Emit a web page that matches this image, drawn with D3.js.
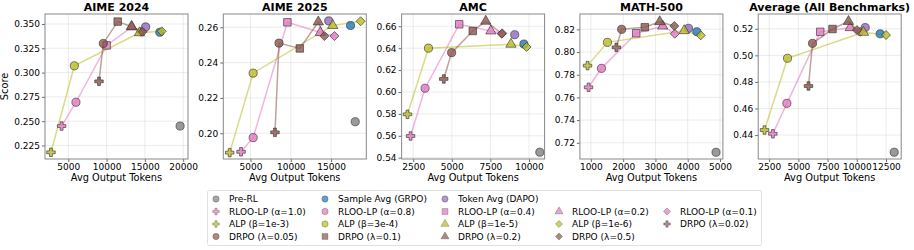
<!DOCTYPE html>
<html>
<head>
<meta charset="utf-8">
<script src="https://cdn.jsdelivr.net/npm/d3@7/dist/d3.min.js"></script>
<style>
  body { margin: 0; background: #fff; }
  svg { font-family: "DejaVu Sans", sans-serif; }
</style>
</head>
<body>
<svg id="chart" width="914" height="250"></svg>
<script>
// panels, in order: AIME 2024, AIME 2025, AMC, MATH-500, Average
var panelTitles = ["AIME 2024", "AIME 2025", "AMC", "MATH-500", "Average (All Benchmarks)"];
var xDomains = [[1960, 20630], [1625, 19375], [1750, 11010], [660, 5090], [1560, 13800]];
var yDomains = [[0.2111, 0.3603], [0.1854, 0.2675], [0.5388, 0.6712], [0.7057, 0.8335], [0.422, 0.5311]];
var xTicks = [
  [5000, 10000, 15000, 20000],
  [5000, 10000, 15000],
  [2500, 5000, 7500, 10000],
  [1000, 2000, 3000, 4000, 5000],
  [2500, 5000, 7500, 10000, 12500]
];
var yTicks = [
  [0.225, 0.25, 0.275, 0.3, 0.325, 0.35],
  [0.20, 0.22, 0.24, 0.26],
  [0.54, 0.56, 0.58, 0.60, 0.62, 0.64, 0.66],
  [0.72, 0.74, 0.76, 0.78, 0.80, 0.82],
  [0.44, 0.46, 0.48, 0.50, 0.52]
];
var yFormats = [".3f", ".2f", ".2f", ".2f", ".2f"];

// [avg output tokens, score] per panel
var preRL   = [[19600, 0.245], [18000, 0.2065], [10700, 0.545], [4877, 0.7116], [13200, 0.4271]];
var grpo    = [[16950, 0.3415], [17420, 0.261], [9670, 0.6438], [4283, 0.8179], [12000, 0.5162]];
var dapo    = [[15100, 0.347], [14710, 0.2636], [9075, 0.6523], [4025, 0.8209], [10720, 0.5209]];
var rloo10  = [[4130, 0.245], [3830, 0.1895], [2330, 0.5598], [928, 0.7689], [2815, 0.441]];
var rloo08  = [[6000, 0.2695], [5330, 0.1975], [3270, 0.6034], [1328, 0.7856], [4015, 0.4639]];
var rloo04  = [[10010, 0.328], [9580, 0.2628], [5480, 0.6618], [2405, 0.8165], [6870, 0.5177]];
var rloo02  = [[13300, 0.347], [13670, 0.257], [7530, 0.6557], [3225, 0.8229], [9430, 0.5208]];
var rloo01  = [[14500, 0.342], [15420, 0.255], [8270, 0.6535], [3600, 0.8161], [10290, 0.5177]];
var alp1e3  = [[2740, 0.218], [2420, 0.189], [2130, 0.5796], [897, 0.788], [2100, 0.4438]];
var alp3e4  = [[5790, 0.307], [5330, 0.234], [3490, 0.640], [1513, 0.8085], [4070, 0.4978]];
var alp1e5  = [[14300, 0.341], [15210, 0.261], [8830, 0.6436], [3892, 0.8188], [10570, 0.5173]];
var alp1e6  = [[17200, 0.3425], [18670, 0.2634], [9840, 0.6411], [4405, 0.8147], [12500, 0.5153]];
var drpo002 = [[9010, 0.291], [8040, 0.2005], [4480, 0.6119], [1790, 0.8041], [5865, 0.4769]];
var drpo005 = [[9570, 0.330], [8540, 0.251], [4990, 0.6359], [1954, 0.820], [6210, 0.509]];
var drpo01  = [[11450, 0.3525], [11120, 0.248], [6360, 0.6557], [2671, 0.8218], [7920, 0.5198]];
var drpo02  = [[13250, 0.3475], [13420, 0.263], [7200, 0.6646], [3133, 0.8267], [9290, 0.5255]];
var drpo05  = [[14700, 0.342], [14170, 0.255], [8230, 0.6532], [3585, 0.8229], [10010, 0.519]];

var colors = {
  gray: "#7f7f7f", blue: "#1f77b4", purple: "#9467bd",
  pink: "#e377c2", olive: "#bcbd22", brown: "#8c564b"
};

var series = [
  {label: "Pre-RL", data: preRL, color: "gray", shape: "circle"},
  {label: "Sample Avg (GRPO)", data: grpo, color: "blue", shape: "circle"},
  {label: "Token Avg (DAPO)", data: dapo, color: "purple", shape: "circle"},
  {label: "RLOO-LP (α=1.0)", data: rloo10, color: "pink", shape: "plus"},
  {label: "RLOO-LP (α=0.8)", data: rloo08, color: "pink", shape: "circle"},
  {label: "RLOO-LP (α=0.4)", data: rloo04, color: "pink", shape: "square"},
  {label: "RLOO-LP (α=0.2)", data: rloo02, color: "pink", shape: "triangle"},
  {label: "RLOO-LP (α=0.1)", data: rloo01, color: "pink", shape: "diamond"},
  {label: "ALP (β=1e-3)", data: alp1e3, color: "olive", shape: "plus"},
  {label: "ALP (β=3e-4)", data: alp3e4, color: "olive", shape: "circle"},
  {label: "ALP (β=1e-5)", data: alp1e5, color: "olive", shape: "triangle"},
  {label: "ALP (β=1e-6)", data: alp1e6, color: "olive", shape: "diamond"},
  {label: "DRPO (λ=0.02)", data: drpo002, color: "brown", shape: "plus"},
  {label: "DRPO (λ=0.05)", data: drpo005, color: "brown", shape: "circle"},
  {label: "DRPO (λ=0.1)", data: drpo01, color: "brown", shape: "square"},
  {label: "DRPO (λ=0.2)", data: drpo02, color: "brown", shape: "triangle"},
  {label: "DRPO (λ=0.5)", data: drpo05, color: "brown", shape: "diamond"}
];

var families = [
  {color: "pink", members: [rloo10, rloo08, rloo04, rloo02, rloo01]},
  {color: "olive", members: [alp1e3, alp3e4, alp1e5, alp1e6]},
  {color: "brown", members: [drpo002, drpo005, drpo01, drpo02, drpo05]}
];

// legend layout, column by column (null = empty slot)
var legendCols = [
  ["Pre-RL", "RLOO-LP (α=1.0)", "ALP (β=1e-3)", "DRPO (λ=0.05)"],
  ["Sample Avg (GRPO)", "RLOO-LP (α=0.8)", "ALP (β=3e-4)", "DRPO (λ=0.1)"],
  ["Token Avg (DAPO)", "RLOO-LP (α=0.4)", "ALP (β=1e-5)", "DRPO (λ=0.2)"],
  [null, "RLOO-LP (α=0.2)", "ALP (β=1e-6)", "DRPO (λ=0.5)"],
  [null, "RLOO-LP (α=0.1)", "DRPO (λ=0.02)", null]
];

var svg = d3.select("#chart");
var plotTop = 14, plotH = 145, plotW = 143;

function symbolPath(shape, k) {
  k = k || 1;
  var sym;
  if (shape === "circle") sym = d3.symbol(d3.symbolCircle, 52 * k);
  else if (shape === "square") sym = d3.symbol(d3.symbolSquare, 56 * k);
  else if (shape === "triangle") sym = d3.symbol(d3.symbolTriangle, 46 * k);
  else if (shape === "plus") sym = d3.symbol(d3.symbolCross, 40 * k);
  else sym = d3.symbol(d3.symbolSquare, 40 * k);
  return sym();
}

panelTitles.forEach(function(title, i) {
  var left = 45 + i * 178.3;
  var w = plotW, h = plotH;
  var g = svg.append("g").attr("transform", "translate(" + left + "," + plotTop + ")");

  var x = d3.scaleLinear().domain(xDomains[i]).range([0, w]);
  var y = d3.scaleLinear().domain(yDomains[i]).range([h, 0]);

  // grid
  g.append("g").selectAll("line").data(xTicks[i]).enter().append("line")
    .attr("x1", d => x(d)).attr("x2", d => x(d)).attr("y1", 0).attr("y2", h)
    .attr("stroke", "#b0b0b0").attr("stroke-opacity", 0.3).attr("stroke-width", 0.8);
  g.append("g").selectAll("line").data(yTicks[i]).enter().append("line")
    .attr("y1", d => y(d)).attr("y2", d => y(d)).attr("x1", 0).attr("x2", w)
    .attr("stroke", "#b0b0b0").attr("stroke-opacity", 0.3).attr("stroke-width", 0.8);

  // axes
  var xa = g.append("g").attr("transform", "translate(0," + h + ")")
    .call(d3.axisBottom(x).tickValues(xTicks[i]).tickFormat(d3.format("d")).tickSize(3).tickPadding(2));
  var ya = g.append("g")
    .call(d3.axisLeft(y).tickValues(yTicks[i]).tickFormat(d3.format(yFormats[i])).tickSize(3).tickPadding(2));
  [xa, ya].forEach(function(a) {
    a.select(".domain").remove();
    a.selectAll("text").attr("font-size", 9).attr("fill", "#000")
      .attr("font-family", "DejaVu Sans, sans-serif");
    a.selectAll("line").attr("stroke", "#444").attr("stroke-width", 0.8);
  });

  // family lines
  families.forEach(function(f) {
    var pts = f.members.map(m => m[i]);
    g.append("path")
      .attr("d", d3.line().x(d => x(d[0])).y(d => y(d[1]))(pts))
      .attr("fill", "none").attr("stroke", colors[f.color])
      .attr("stroke-opacity", 0.55).attr("stroke-width", 1.5);
  });

  // markers
  series.forEach(function(s) {
    var p = s.data[i];
    g.append("path")
      .attr("d", symbolPath(s.shape))
      .attr("transform", "translate(" + x(p[0]) + "," + y(p[1]) + ")" + (s.shape === "diamond" ? " rotate(45)" : ""))
      .attr("fill", colors[s.color]).attr("fill-opacity", 0.8)
      .attr("stroke", "#333").attr("stroke-opacity", 0.8).attr("stroke-width", 0.8);
  });

  // frame
  g.append("rect").attr("width", w).attr("height", h)
    .attr("fill", "none").attr("stroke", "#888").attr("stroke-width", 1);

  g.append("text").attr("x", w / 2).attr("y", -3).attr("text-anchor", "middle")
    .attr("font-size", 11).attr("font-weight", "bold").text(title);

  g.append("text").attr("x", w / 2).attr("y", h + 22).attr("text-anchor", "middle")
    .attr("font-size", 9.8).text("Avg Output Tokens");

  if (i === 0) {
    g.append("text").attr("transform", "translate(-37," + (h / 2) + ") rotate(-90)")
      .attr("text-anchor", "middle").attr("font-size", 9.8).text("Score");
  }
});

// legend
var lg = svg.append("g");
lg.append("rect").attr("x", 207.5).attr("y", 190.5).attr("width", 554).attr("height", 55)
  .attr("rx", 2).attr("fill", "#fff").attr("stroke", "#d8d8d8").attr("stroke-width", 0.8);
var colX = [216, 325, 445, 559, 667];
var rowY = [199, 211.5, 224, 236.5];
legendCols.forEach(function(col, c) {
  col.forEach(function(label, r) {
    if (!label) return;
    var s = series.find(d => d.label === label);
    lg.append("path")
      .attr("d", symbolPath(s.shape, 0.6))
      .attr("transform", "translate(" + colX[c] + "," + rowY[r] + ")" + (s.shape === "diamond" ? " rotate(45)" : ""))
      .attr("fill", colors[s.color]).attr("fill-opacity", 0.7)
      .attr("stroke", "#333").attr("stroke-opacity", 0.5).attr("stroke-width", 0.6);
    lg.append("text").attr("x", colX[c] + 13).attr("y", rowY[r] + 3.3)
      .attr("font-size", 9).text(label);
  });
});
</script>
</body>
</html>
